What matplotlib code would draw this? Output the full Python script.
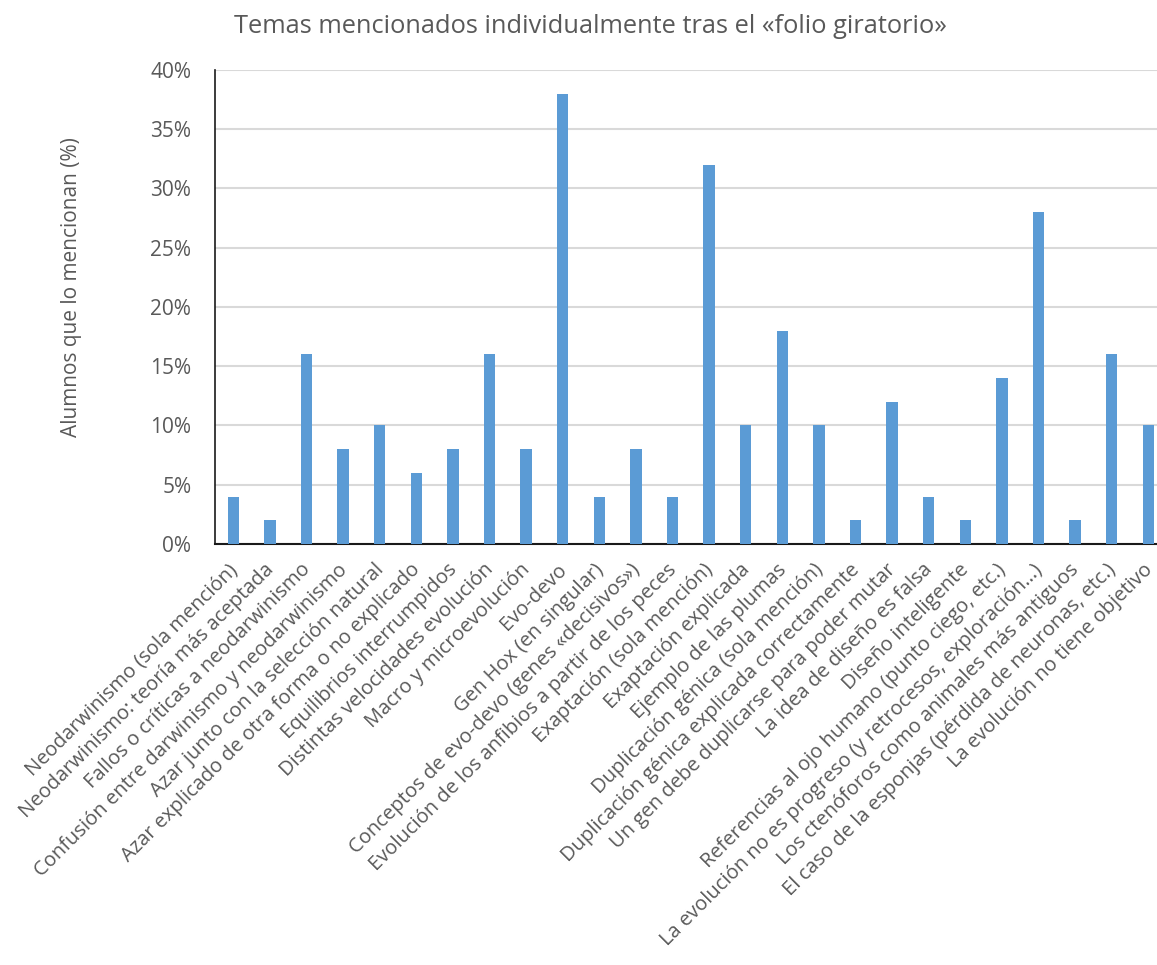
import matplotlib
matplotlib.use('Agg')
import matplotlib.pyplot as plt
import matplotlib.transforms as mtransforms
from matplotlib.ticker import PercentFormatter

temas = [
    'Neodarwinismo (sola mención)',
    'Neodarwinismo: teoría más aceptada',
    'Fallos o críticas a neodarwinismo',
    'Confusión entre darwinismo y neodarwinismo',
    'Azar junto con la selección natural',
    'Azar explicado de otra forma o no explicado',
    'Equilibrios interrumpidos',
    'Distintas velocidades evolución',
    'Macro y microevolución',
    'Evo-devo',
    'Gen Hox (en singular)',
    'Conceptos de evo-devo (genes «decisivos»)',
    'Evolución de los anfibios a partir de los peces',
    'Exaptación (sola mención)',
    'Exaptación explicada',
    'Ejemplo de las plumas',
    'Duplicación génica (sola mención)',
    'Duplicación génica explicada correctamente',
    'Un gen debe duplicarse para poder mutar',
    'La idea de diseño es falsa',
    'Diseño inteligente',
    'Referencias al ojo humano (punto ciego, etc.)',
    'La evolución no es progreso (y retrocesos, exploración…)',
    'Los ctenóforos como animales más antiguos',
    'El caso de la esponjas (pérdida de neuronas, etc.)',
    'La evolución no tiene objetivo',
]
porcentaje = [4, 2, 16, 8, 10, 6, 8, 16, 8, 38, 4, 8, 4, 32, 10, 18, 10, 2, 12, 4, 2, 14, 28, 2, 16, 10]

gris = '#595959'
plt.rcParams['font.family'] = ['Open Sans', 'DejaVu Sans']

fig = plt.figure(figsize=(11.57, 9.65), dpi=100)
# the axes runs a bit past the right edge, as in the cropped original
ax = fig.add_axes([0.1858, 0.4363, 0.8225, 0.4912])

x = range(len(temas))
ax.bar(x, porcentaje, width=0.315, color='#5B9BD5', zorder=3)

ax.set_xlim(-0.5, len(temas) - 0.5)
ax.set_ylim(0, 40)
ax.set_yticks(range(0, 41, 5))
ax.yaxis.set_major_formatter(PercentFormatter(decimals=0))
ax.grid(axis='y', color='#D9D9D9', linewidth=1.5, zorder=0)

for s in ['top', 'right']:
    ax.spines[s].set_visible(False)
ax.spines['bottom'].set_color('#1a1a1a')
ax.spines['bottom'].set_linewidth(1.5)
ax.spines['left'].set_color('#1a1a1a')
ax.spines['left'].set_linewidth(1.2)

ax.set_xticks(list(x))
ax.set_xticklabels(temas, rotation=45, ha='right', rotation_mode='anchor',
                   fontsize=14.5, color=gris)
ax.tick_params(axis='x', length=0, pad=10)
ax.tick_params(axis='y', length=0, labelsize=15, labelcolor=gris, pad=17)

# nudge the slanted labels a little left so the last one stays inside
shift = mtransforms.ScaledTranslation(-6 / 100, -2 / 100, fig.dpi_scale_trans)
for lab in ax.get_xticklabels():
    lab.set_transform(lab.get_transform() + shift)

ax.set_ylabel('Alumnos que lo mencionan (%)', fontsize=15, color=gris, va='center')
ax.yaxis.set_label_coords(-0.151, 0.541)
fig.suptitle('Temas mencionados individualmente tras el «folio giratorio»',
             x=0.51, y=0.985, fontsize=18.3, color=gris)

fig.savefig('out.png', dpi=100)
